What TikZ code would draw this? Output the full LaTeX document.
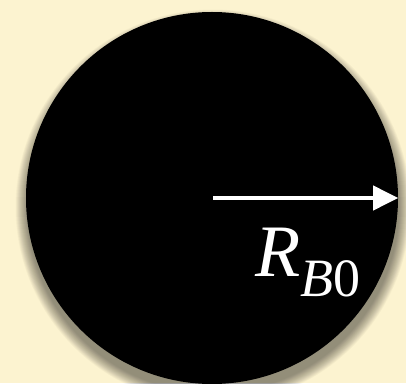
\documentclass[tikz,border=0pt]{standalone}
\usepackage{fontspec}
\setmainfont{Liberation Serif}
\usetikzlibrary{arrows.meta,positioning}
\definecolor{Cream}{RGB}{252,243,208}

\begin{document}
\begin{tikzpicture}[
        x=1pt, y=1pt,
        disk/.style={circle, fill=black, minimum size=372pt, inner sep=0pt},
        shade/.style={fill=black, opacity=0.02},
        radius arrow/.style={-{Triangle[length=25pt, width=24pt]}, line width=4pt, white},
        lbl/.style={text=white, inner sep=0pt, font=\fontsize{74}{80}\selectfont\itshape}
      ]
        \useasboundingbox (0,0) rectangle (406,383);
        \fill[Cream] (0,0) rectangle (406,383);
        \clip (0,0) rectangle (406,383);
        % soft shadow, mostly below
        \foreach \r in {0,...,23}
          \fill[shade] (213,176) circle[radius=186+\r/2];
        \node[disk] (disk) at (212,185) {};
        \coordinate (ctr) at (213,185);
        \draw[radius arrow] (ctr) -- (disk.east);
        \node[lbl, anchor=base west] (rb) at (255,107)
          {R\raisebox{-20pt}{\fontsize{54}{60}\selectfont B\upshape 0}};
      \end{tikzpicture}
\end{document}
